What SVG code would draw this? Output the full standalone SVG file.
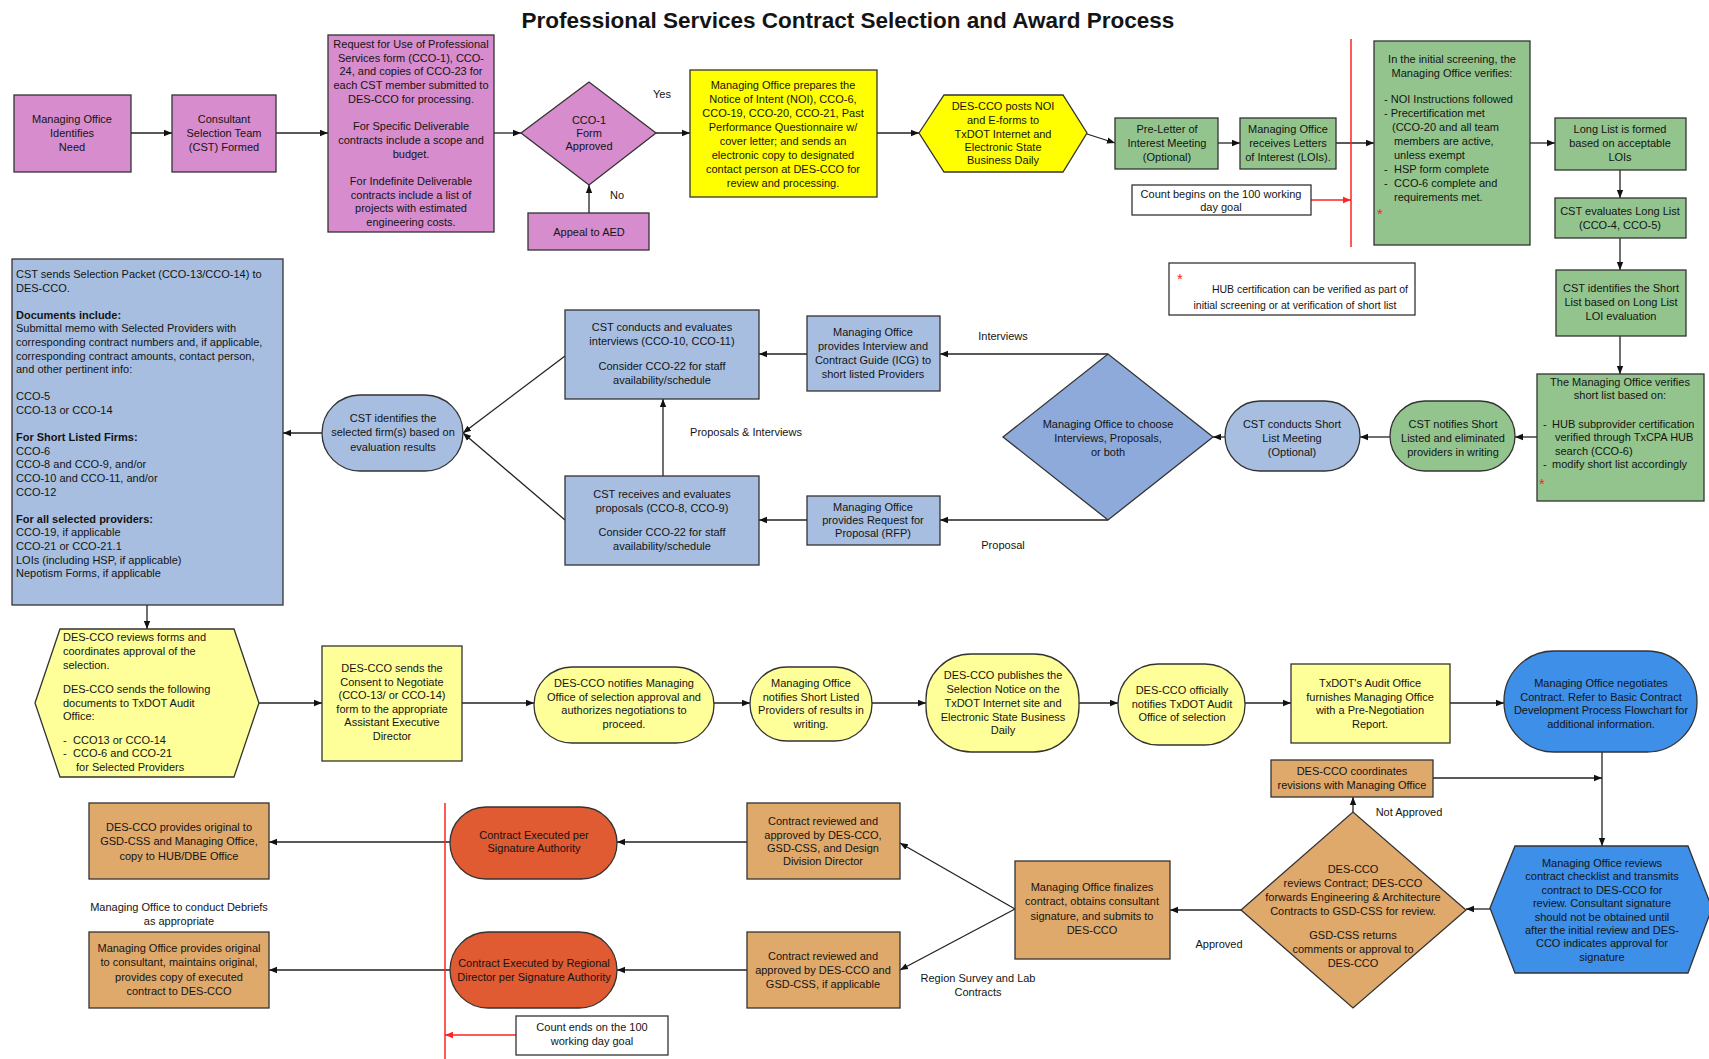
<svg xmlns="http://www.w3.org/2000/svg" width="1709" height="1059" viewBox="0 0 1709 1059">
<defs>
<style>
text{font-family:"Liberation Sans",Arial,sans-serif;font-size:11px;fill:#141414}
.c{text-anchor:middle}
.t{font-size:22.5px;font-weight:bold}
.b{font-weight:bold}
.s{stroke:#333;stroke-width:1.3}
.pk{fill:#d68ccd}.yl{fill:#ffff00}.ly{fill:#ffff99}.gr{fill:#93c48d}.lb{fill:#a7bee0}.db{fill:#8eaadb}.bb{fill:#3d8fe8}.tn{fill:#dfa96c}.rd{fill:#e05a32}.wh{fill:#fff}
.cn path{fill:none;stroke:#222;stroke-width:1.3;marker-end:url(#ah)}
.cn path.r{stroke:#f22;marker-end:url(#ahr)}
.rl{stroke:#f22;stroke-width:1.5}
.star{fill:#f22;font-size:15px}
</style>
<marker id="ah" viewBox="0 0 10 10" refX="10" refY="5" markerWidth="8" markerHeight="8" markerUnits="userSpaceOnUse" orient="auto"><path d="M0,1 L10,5 L0,9 z" fill="#111"/></marker>
<marker id="ahr" viewBox="0 0 10 10" refX="10" refY="5" markerWidth="8" markerHeight="8" markerUnits="userSpaceOnUse" orient="auto"><path d="M0,1 L10,5 L0,9 z" fill="#f22"/></marker>
</defs>
<rect width="1709" height="1059" fill="#fff"/>
<text class="c t" x="848" y="28">Professional Services Contract Selection and Award Process</text>

<g class="cn">
<path d="M131,133 H172"/>
<path d="M276,133 H328"/>
<path d="M494,133 H521"/>
<path d="M656,133 H690"/>
<path d="M589,213 V185"/>
<path d="M877,133 H919"/>
<path d="M1087,134 L1115,143"/>
<path d="M1218,143 H1240"/>
<path d="M1336,143 H1374"/>
<path d="M1530,143 H1555"/>
<path d="M1620,170 V198"/>
<path d="M1620,238 V270"/>
<path d="M1620,336 V374"/>
<path d="M1537,437 H1515"/>
<path d="M1390,437 H1360"/>
<path d="M1225,437 H1213"/>
<path d="M1108,354 H940"/>
<path d="M1108,520 H940"/>
<path d="M807,354 H759"/>
<path d="M807,520 H759"/>
<path d="M663,476 V399"/>
<path d="M565,356 L463,433"/>
<path d="M565,520 L463,433"/>
<path d="M322,433 H283"/>
<path d="M147,605 V629"/>
<path d="M259,703 H322"/>
<path d="M462,703 H534"/>
<path d="M714,703 H750"/>
<path d="M872,703 H926"/>
<path d="M1079,703 H1118"/>
<path d="M1245,703 H1291"/>
<path d="M1450,703 H1504"/>
<path d="M1353,812 V797"/>
<path d="M1433,778 H1602"/>
<path d="M1602,752 V846"/>
<path d="M1490,909 H1466"/>
<path d="M1241,910 H1170"/>
<path d="M1015,909 L900,843"/>
<path d="M1015,909 L900,970"/>
<path d="M747,842 H617"/>
<path d="M747,970 H617"/>
<path d="M450,842 H269"/>
<path d="M450,970 H269"/>
<path class="r" d="M1311,200 H1351"/>
<path class="r" d="M516,1035 H445"/>
</g>
<line class="rl" x1="1351" y1="39" x2="1351" y2="247"/>
<line class="rl" x1="445" y1="803" x2="445" y2="1059"/>

<g id="n1"><rect class="s pk" x="14" y="95" width="117" height="77"/>
<text class="c" x="72"><tspan x="72" y="123">Managing Office</tspan><tspan x="72" y="137">Identifies</tspan><tspan x="72" y="151">Need</tspan></text></g>
<g id="n2"><rect class="s pk" x="172" y="95" width="104" height="77"/>
<text class="c" x="224"><tspan x="224" y="123">Consultant</tspan><tspan x="224" y="137">Selection Team</tspan><tspan x="224" y="151">(CST) Formed</tspan></text></g>
<g id="n3"><rect class="s pk" x="328" y="35" width="166" height="197"/>
<text class="c"><tspan x="411" y="48">Request for Use of Professional</tspan><tspan x="411" y="61.7">Services form (CCO-1), CCO-</tspan><tspan x="411" y="75.4">24, and copies of CCO-23 for</tspan><tspan x="411" y="89.1">each CST member submitted to</tspan><tspan x="411" y="102.8">DES-CCO for processing.</tspan><tspan x="411" y="130.2">For Specific Deliverable</tspan><tspan x="411" y="143.9">contracts include a scope and</tspan><tspan x="411" y="157.6">budget.</tspan><tspan x="411" y="185">For Indefinite Deliverable</tspan><tspan x="411" y="198.7">contracts include a list of</tspan><tspan x="411" y="212.4">projects with estimated</tspan><tspan x="411" y="226.1">engineering costs.</tspan></text></g>
<g id="n4"><polygon class="s pk" points="521,133 589,82 656,133 589,185"/>
<text class="c"><tspan x="589" y="124">CCO-1</tspan><tspan x="589" y="137">Form</tspan><tspan x="589" y="150">Approved</tspan></text></g>
<g id="n5"><rect class="s pk" x="528" y="213" width="121" height="37"/>
<text class="c" x="589" y="235.5">Appeal to AED</text></g>
<text class="c" x="662" y="98">Yes</text>
<text class="c" x="617" y="199">No</text>
<g id="n6"><rect class="s yl" x="690" y="70" width="187" height="127"/>
<text class="c"><tspan x="783" y="89">Managing Office prepares the</tspan><tspan x="783" y="103">Notice of Intent (NOI), CCO-6,</tspan><tspan x="783" y="117">CCO-19, CCO-20, CCO-21, Past</tspan><tspan x="783" y="131">Performance Questionnaire w/</tspan><tspan x="783" y="145">cover letter; and sends an</tspan><tspan x="783" y="159">electronic copy to designated</tspan><tspan x="783" y="173">contact person at DES-CCO for</tspan><tspan x="783" y="187">review and processing.</tspan></text></g>
<g id="n7"><polygon class="s yl" points="919,133 944,95 1063,95 1087,133 1063,172 944,172"/>
<text class="c"><tspan x="1003" y="110">DES-CCO posts NOI</tspan><tspan x="1003" y="124">and E-forms to</tspan><tspan x="1003" y="137.5">TxDOT Internet and</tspan><tspan x="1003" y="151">Electronic State</tspan><tspan x="1003" y="164">Business Daily</tspan></text></g>
<g id="n8"><rect class="s gr" x="1115" y="118" width="103" height="51"/>
<text class="c"><tspan x="1167" y="133">Pre-Letter of</tspan><tspan x="1167" y="147">Interest Meeting</tspan><tspan x="1167" y="161">(Optional)</tspan></text></g>
<g id="n9"><rect class="s gr" x="1240" y="118" width="96" height="51"/>
<text class="c"><tspan x="1288" y="133">Managing Office</tspan><tspan x="1288" y="147">receives Letters</tspan><tspan x="1288" y="161">of Interest (LOIs).</tspan></text></g>
<g id="n10"><rect class="s wh" x="1132" y="185" width="179" height="30"/>
<text class="c"><tspan x="1221" y="198">Count begins on the 100 working</tspan><tspan x="1221" y="211">day goal</tspan></text></g>
<g id="n11"><rect class="s gr" x="1374" y="41" width="156" height="204"/>
<text class="c"><tspan x="1452" y="63">In the initial screening, the</tspan><tspan x="1452" y="77">Managing Office verifies:</tspan></text>
<text><tspan x="1384" y="103">- NOI Instructions followed</tspan><tspan x="1384" y="117">- Precertification met</tspan><tspan x="1392" y="131">(CCO-20 and all team</tspan><tspan x="1394" y="145">members are active,</tspan><tspan x="1394" y="159">unless exempt</tspan><tspan x="1384" y="173">-</tspan><tspan x="1394" y="173">HSP form complete</tspan><tspan x="1384" y="187">-</tspan><tspan x="1394" y="187">CCO-6 complete and</tspan><tspan x="1394" y="201">requirements met.</tspan></text>
<text class="star" x="1377" y="219">*</text></g>
<g id="n12"><rect class="s gr" x="1555" y="118" width="131" height="52"/>
<text class="c"><tspan x="1620" y="133">Long List is formed</tspan><tspan x="1620" y="147">based on acceptable</tspan><tspan x="1620" y="161">LOIs</tspan></text></g>
<g id="n13"><rect class="s gr" x="1555" y="198" width="131" height="40"/>
<text class="c"><tspan x="1620" y="215">CST evaluates Long List</tspan><tspan x="1620" y="229">(CCO-4, CCO-5)</tspan></text></g>
<g id="n14"><rect class="s gr" x="1556" y="270" width="130" height="66"/>
<text class="c"><tspan x="1621" y="292">CST identifies the Short</tspan><tspan x="1621" y="306">List based on Long List</tspan><tspan x="1621" y="320">LOI evaluation</tspan></text></g>
<g id="n15"><rect class="s gr" x="1537" y="374" width="167" height="127"/>
<text class="c"><tspan x="1620" y="386">The Managing Office verifies</tspan><tspan x="1620" y="399">short list based on:</tspan></text>
<text><tspan x="1543" y="428">-</tspan><tspan x="1552" y="428">HUB subprovider certification</tspan><tspan x="1555" y="441">verified through TxCPA HUB</tspan><tspan x="1555" y="455">search (CCO-6)</tspan><tspan x="1543" y="468">-</tspan><tspan x="1552" y="468">modify short list accordingly</tspan></text>
<text class="star" x="1539" y="489">*</text></g>
<g id="n16"><rect class="s wh" x="1169" y="263" width="246" height="52"/>
<text class="star" x="1177" y="284">*</text>
<text style="font-size:10.5px;text-anchor:end" x="1408" y="293">HUB certification can be verified as part of</text>
<text class="c" style="font-size:10.5px" x="1295" y="309">initial screening or at verification of short list</text></g>
<g id="n17"><rect class="s gr" x="1390" y="401" width="125" height="70" rx="35"/>
<text class="c"><tspan x="1453" y="428">CST notifies Short</tspan><tspan x="1453" y="442">Listed and eliminated</tspan><tspan x="1453" y="456">providers in writing</tspan></text></g>
<g id="n18"><rect class="s lb" x="1225" y="401" width="135" height="70" rx="35"/>
<text class="c"><tspan x="1292" y="428">CST conducts Short</tspan><tspan x="1292" y="442">List Meeting</tspan><tspan x="1292" y="456">(Optional)</tspan></text></g>
<g id="n19"><polygon class="s db" points="1003,437 1108,354 1213,437 1108,520"/>
<text class="c"><tspan x="1108" y="428">Managing Office to choose</tspan><tspan x="1108" y="442">Interviews, Proposals,</tspan><tspan x="1108" y="456">or both</tspan></text></g>
<text class="c" x="1003" y="340">Interviews</text>
<text class="c" x="1003" y="549">Proposal</text>
<g id="n20"><rect class="s lb" x="807" y="316" width="133" height="75"/>
<text class="c"><tspan x="873" y="336">Managing Office</tspan><tspan x="873" y="350">provides Interview and</tspan><tspan x="873" y="364">Contract Guide (ICG) to</tspan><tspan x="873" y="378">short listed Providers</tspan></text></g>
<g id="n21"><rect class="s lb" x="807" y="496" width="133" height="49"/>
<text class="c"><tspan x="873" y="511">Managing Office</tspan><tspan x="873" y="524">provides Request for</tspan><tspan x="873" y="537">Proposal (RFP)</tspan></text></g>
<g id="n22"><rect class="s lb" x="565" y="310" width="194" height="89"/>
<text class="c"><tspan x="662" y="331">CST conducts and evaluates</tspan><tspan x="662" y="345">interviews (CCO-10, CCO-11)</tspan><tspan x="662" y="370">Consider CCO-22 for staff</tspan><tspan x="662" y="384">availability/schedule</tspan></text></g>
<g id="n23"><rect class="s lb" x="565" y="476" width="194" height="89"/>
<text class="c"><tspan x="662" y="498">CST receives and evaluates</tspan><tspan x="662" y="512">proposals (CCO-8, CCO-9)</tspan><tspan x="662" y="536">Consider CCO-22 for staff</tspan><tspan x="662" y="550">availability/schedule</tspan></text></g>
<text class="c" x="746" y="436">Proposals &amp; Interviews</text>
<g id="n24"><rect class="s lb" x="322" y="395" width="141" height="76" rx="38"/>
<text class="c"><tspan x="393" y="422">CST identifies the</tspan><tspan x="393" y="436">selected firm(s) based on</tspan><tspan x="393" y="451">evaluation results</tspan></text></g>
<g id="n25"><rect class="s lb" x="12" y="259" width="271" height="346"/>
<text><tspan x="16" y="278">CST sends Selection Packet (CCO-13/CCO-14) to</tspan><tspan x="16" y="291.6">DES-CCO.</tspan><tspan class="b" x="16" y="318.8">Documents include:</tspan><tspan x="16" y="332.4">Submittal memo with Selected Providers with</tspan><tspan x="16" y="346">corresponding contract numbers and, if applicable,</tspan><tspan x="16" y="359.6">corresponding contract amounts, contact person,</tspan><tspan x="16" y="373.2">and other pertinent info:</tspan><tspan x="16" y="400.4">CCO-5</tspan><tspan x="16" y="414">CCO-13 or CCO-14</tspan><tspan class="b" x="16" y="441.2">For Short Listed Firms:</tspan><tspan x="16" y="454.8">CCO-6</tspan><tspan x="16" y="468.4">CCO-8 and CCO-9, and/or</tspan><tspan x="16" y="482">CCO-10 and CCO-11, and/or</tspan><tspan x="16" y="495.6">CCO-12</tspan><tspan class="b" x="16" y="522.8">For all selected providers:</tspan><tspan x="16" y="536.4">CCO-19, if applicable</tspan><tspan x="16" y="550">CCO-21 or CCO-21.1</tspan><tspan x="16" y="563.6">LOIs (including HSP, if applicable)</tspan><tspan x="16" y="577.2">Nepotism Forms, if applicable</tspan></text></g>

<g id="n26"><polygon class="s ly" points="35,703 60,629 234,629 259,703 234,777 60,777"/>
<text><tspan x="63" y="641">DES-CCO reviews forms and</tspan><tspan x="63" y="655">coordinates approval of the</tspan><tspan x="63" y="669">selection.</tspan><tspan x="63" y="693">DES-CCO sends the following</tspan><tspan x="63" y="707">documents to TxDOT Audit</tspan><tspan x="63" y="720">Office:</tspan><tspan x="63" y="744">-</tspan><tspan x="73" y="744">CCO13 or CCO-14</tspan><tspan x="63" y="757">-</tspan><tspan x="73" y="757">CCO-6 and CCO-21</tspan><tspan x="76" y="771">for Selected Providers</tspan></text></g>
<g id="n27"><rect class="s ly" x="322" y="646" width="140" height="115"/>
<text class="c"><tspan x="392" y="672">DES-CCO sends the</tspan><tspan x="392" y="685.6">Consent to Negotiate</tspan><tspan x="392" y="699.2">(CCO-13/ or CCO-14)</tspan><tspan x="392" y="712.8">form to the appropriate</tspan><tspan x="392" y="726.4">Assistant Executive</tspan><tspan x="392" y="740">Director</tspan></text></g>
<g id="n28"><rect class="s ly" x="534" y="667" width="180" height="76" rx="38"/>
<text class="c"><tspan x="624" y="687">DES-CCO notifies Managing</tspan><tspan x="624" y="700.5">Office of selection approval and</tspan><tspan x="624" y="714">authorizes negotiations to</tspan><tspan x="624" y="727.5">proceed.</tspan></text></g>
<g id="n29"><rect class="s ly" x="750" y="667" width="122" height="74" rx="37"/>
<text class="c"><tspan x="811" y="687">Managing Office</tspan><tspan x="811" y="700.5">notifies Short Listed</tspan><tspan x="811" y="714">Providers of results in</tspan><tspan x="811" y="727.5">writing.</tspan></text></g>
<g id="n30"><rect class="s ly" x="926" y="654" width="153" height="98" rx="45"/>
<text class="c"><tspan x="1003" y="679">DES-CCO publishes the</tspan><tspan x="1003" y="693">Selection Notice on the</tspan><tspan x="1003" y="707">TxDOT Internet site and</tspan><tspan x="1003" y="721">Electronic State Business</tspan><tspan x="1003" y="734">Daily</tspan></text></g>
<g id="n31"><rect class="s ly" x="1118" y="664" width="127" height="81" rx="40"/>
<text class="c"><tspan x="1182" y="694">DES-CCO officially</tspan><tspan x="1182" y="707.5">notifies TxDOT Audit</tspan><tspan x="1182" y="721">Office of selection</tspan></text></g>
<g id="n32"><rect class="s ly" x="1291" y="664" width="159" height="79"/>
<text class="c"><tspan x="1370" y="687">TxDOT's Audit Office</tspan><tspan x="1370" y="700.5">furnishes Managing Office</tspan><tspan x="1370" y="714">with a Pre-Negotiation</tspan><tspan x="1370" y="727.5">Report.</tspan></text></g>
<g id="n33"><rect class="s bb" x="1504" y="651" width="193" height="101" rx="50"/>
<text class="c"><tspan x="1601" y="687">Managing Office negotiates</tspan><tspan x="1601" y="700.5">Contract.  Refer to Basic Contract</tspan><tspan x="1601" y="714">Development Process Flowchart for</tspan><tspan x="1601" y="727.5">additional information.</tspan></text></g>

<g id="n34"><rect class="s tn" x="1271" y="760" width="162" height="37"/>
<text class="c"><tspan x="1352" y="775">DES-CCO coordinates</tspan><tspan x="1352" y="789">revisions with Managing Office</tspan></text></g>
<g id="n35"><polygon class="s bb" points="1490,908 1515,846 1688,846 1712,908 1688,973 1515,973"/>
<text class="c"><tspan x="1602" y="867">Managing Office reviews</tspan><tspan x="1602" y="880.4">contract checklist and transmits</tspan><tspan x="1602" y="893.8">contract to DES-CCO for</tspan><tspan x="1602" y="907.2">review.  Consultant signature</tspan><tspan x="1602" y="920.6">should not be obtained until</tspan><tspan x="1602" y="934">after the initial review and DES-</tspan><tspan x="1602" y="947.4">CCO indicates approval for</tspan><tspan x="1602" y="960.8">signature</tspan></text></g>
<g id="n36"><polygon class="s tn" points="1241,910 1353,812 1466,910 1353,1008"/>
<text class="c"><tspan x="1353" y="873">DES-CCO</tspan><tspan x="1353" y="887">reviews Contract; DES-CCO</tspan><tspan x="1353" y="901">forwards Engineering &amp; Architecture</tspan><tspan x="1353" y="915">Contracts to GSD-CSS for review.</tspan><tspan x="1353" y="939">GSD-CSS returns</tspan><tspan x="1353" y="953">comments or approval to</tspan><tspan x="1353" y="967">DES-CCO</tspan></text></g>
<text class="c" x="1409" y="816">Not Approved</text>
<text class="c" x="1219" y="948">Approved</text>
<g id="n37"><rect class="s tn" x="1015" y="861" width="155" height="98"/>
<text class="c"><tspan x="1092" y="891">Managing Office finalizes</tspan><tspan x="1092" y="905">contract, obtains consultant</tspan><tspan x="1092" y="920">signature, and submits to</tspan><tspan x="1092" y="934">DES-CCO</tspan></text></g>
<g id="n38"><rect class="s tn" x="747" y="803" width="153" height="76"/>
<text class="c"><tspan x="823" y="825">Contract reviewed and</tspan><tspan x="823" y="839">approved by DES-CCO,</tspan><tspan x="823" y="852">GSD-CSS, and Design</tspan><tspan x="823" y="865">Division Director</tspan></text></g>
<g id="n39"><rect class="s tn" x="747" y="932" width="153" height="76"/>
<text class="c"><tspan x="823" y="960">Contract reviewed and</tspan><tspan x="823" y="974">approved by DES-CCO and</tspan><tspan x="823" y="988">GSD-CSS, if applicable</tspan></text></g>
<text class="c"><tspan x="978" y="982">Region Survey and Lab</tspan><tspan x="978" y="996">Contracts</tspan></text>
<g id="n40"><rect class="s rd" x="450" y="807" width="167" height="72" rx="36"/>
<text class="c"><tspan x="534" y="839">Contract Executed per</tspan><tspan x="534" y="852">Signature Authority</tspan></text></g>
<g id="n41"><rect class="s rd" x="450" y="932" width="167" height="76" rx="38"/>
<text class="c"><tspan x="534" y="967">Contract Executed by Regional</tspan><tspan x="534" y="981">Director per Signature Authority</tspan></text></g>
<g id="n42"><rect class="s wh" x="516" y="1016" width="152" height="39"/>
<text class="c"><tspan x="592" y="1031">Count ends on the 100</tspan><tspan x="592" y="1045">working day goal</tspan></text></g>
<g id="n43"><rect class="s tn" x="89" y="803" width="180" height="76"/>
<text class="c"><tspan x="179" y="831">DES-CCO provides original to</tspan><tspan x="179" y="845">GSD-CSS and Managing Office,</tspan><tspan x="179" y="860">copy to HUB/DBE Office</tspan></text></g>
<text class="c"><tspan x="179" y="911">Managing Office to conduct Debriefs</tspan><tspan x="179" y="925">as appropriate</tspan></text>
<g id="n44"><rect class="s tn" x="89" y="932" width="180" height="76"/>
<text class="c"><tspan x="179" y="952">Managing Office provides original</tspan><tspan x="179" y="966">to consultant, maintains original,</tspan><tspan x="179" y="981">provides copy of executed</tspan><tspan x="179" y="995">contract to DES-CCO</tspan></text></g>
</svg>
